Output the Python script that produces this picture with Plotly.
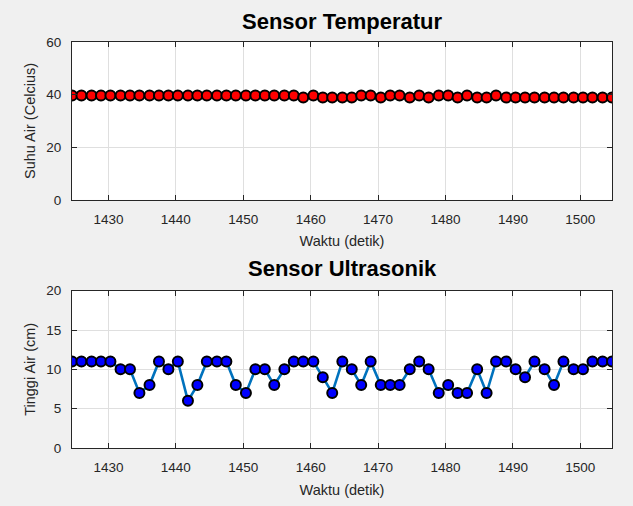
import plotly.graph_objects as go

# ---- data ----
waktu = [1424.6, 1426.0, 1427.5, 1428.9, 1430.3, 1431.8, 1433.2, 1434.6, 1436.1, 1437.5,
         1438.9, 1440.3, 1441.8, 1443.2, 1444.6, 1446.1, 1447.5, 1448.9, 1450.4, 1451.8,
         1453.2, 1454.6, 1456.1, 1457.5, 1458.9, 1460.4, 1461.8, 1463.2, 1464.7, 1466.1,
         1467.5, 1468.9, 1470.4, 1471.8, 1473.2, 1474.7, 1476.1, 1477.5, 1479.0, 1480.4,
         1481.8, 1483.2, 1484.7, 1486.1, 1487.5, 1489.0, 1490.4, 1491.8, 1493.2, 1494.7,
         1496.1, 1497.5, 1499.0, 1500.4, 1501.8, 1503.3, 1504.7]

suhu = [39.7, 39.7, 39.7, 39.7, 39.7, 39.7, 39.7, 39.7, 39.7, 39.7,
        39.7, 39.7, 39.7, 39.7, 39.7, 39.7, 39.7, 39.7, 39.7, 39.7,
        39.7, 39.7, 39.7, 39.7, 38.9, 39.7, 38.9, 38.9, 38.9, 38.9,
        39.7, 39.7, 38.9, 39.7, 39.7, 38.9, 39.7, 38.9, 39.7, 39.7,
        38.9, 39.7, 38.9, 38.9, 39.7, 38.9, 38.9, 38.9, 38.9, 38.9,
        38.9, 38.9, 38.9, 38.9, 38.9, 38.9, 38.9]

tinggi = [11, 11, 11, 11, 11, 10, 10, 7, 8, 11,
          10, 11, 6, 8, 11, 11, 11, 8, 7, 10,
          10, 8, 10, 11, 11, 11, 9, 7, 11, 10,
          8, 11, 8, 8, 8, 10, 11, 10, 7, 8,
          7, 7, 10, 7, 11, 11, 10, 9, 11, 10,
          8, 11, 10, 10, 11, 11, 11]

x_ticks = [1430, 1440, 1450, 1460, 1470, 1480, 1490, 1500]
y1_ticks = [0, 20, 40, 60]
y2_ticks = [0, 5, 10, 15, 20]

FONT = "Liberation Sans, Arial, Helvetica, sans-serif"
AX = "#262626"
GRID = "#DFDFDF"

fig = go.Figure()

fig.add_trace(go.Scatter(
    x=waktu, y=suhu, mode="lines+markers", xaxis="x", yaxis="y",
    line=dict(color="#FF0000", width=1),
    marker=dict(size=10, color="#FF0000", line=dict(color="#000000", width=2)),
    showlegend=False))

fig.add_trace(go.Scatter(
    x=waktu, y=tinggi, mode="lines+markers", xaxis="x2", yaxis="y2",
    line=dict(color="#0072BD", width=2.6),
    marker=dict(size=10, color="#0000FF", line=dict(color="#000000", width=2)),
    showlegend=False))

common_axis = dict(
    showline=True, mirror="ticks", linecolor=AX, linewidth=1,
    ticks="inside", ticklen=5, tickcolor=AX, tickwidth=1,
    showgrid=True, gridcolor=GRID, gridwidth=1, zeroline=False,
    tickfont=dict(family=FONT, size=13.5, color=AX),
    ticklabelstandoff=7,
)

xr = [waktu[0], waktu[-1]]

fig.update_layout(
    width=633, height=506,
    margin=dict(l=72, r=21, t=42, b=57.5),
    paper_bgcolor="#F0F0F0", plot_bgcolor="#FFFFFF",
    font=dict(family=FONT, color=AX),
    xaxis=dict(common_axis, domain=[0, 1], anchor="y", range=xr, tickvals=x_ticks,
               title=dict(text="Waktu (detik)", font=dict(family=FONT, size=14.5, color=AX), standoff=9)),
    yaxis=dict(common_axis, domain=[0.611, 1.0], anchor="x", range=[0, 60], tickvals=y1_ticks,
               title=dict(text="Suhu Air (Celcius)", font=dict(family=FONT, size=14.5, color=AX), standoff=7)),
    xaxis2=dict(common_axis, domain=[0, 1], anchor="y2", range=xr, tickvals=x_ticks,
                title=dict(text="Waktu (detik)", font=dict(family=FONT, size=14.5, color=AX), standoff=10)),
    yaxis2=dict(common_axis, domain=[0.0, 0.3875], anchor="x2", range=[0, 20], tickvals=y2_ticks,
                title=dict(text="Tinggi Air (cm)", font=dict(family=FONT, size=14.5, color=AX), standoff=7)),
    annotations=[
        dict(text="<b>Sensor Temperatur</b>", x=0.5, y=1.0517, xref="paper", yref="paper",
             xanchor="center", yanchor="middle", showarrow=False,
             font=dict(family=FONT, size=22, color="#000000")),
        dict(text="<b>Sensor Ultrasonik</b>", x=0.5, y=0.441, xref="paper", yref="paper",
             xanchor="center", yanchor="middle", showarrow=False,
             font=dict(family=FONT, size=22, color="#000000")),
    ],
)

fig.write_html("out.html")
